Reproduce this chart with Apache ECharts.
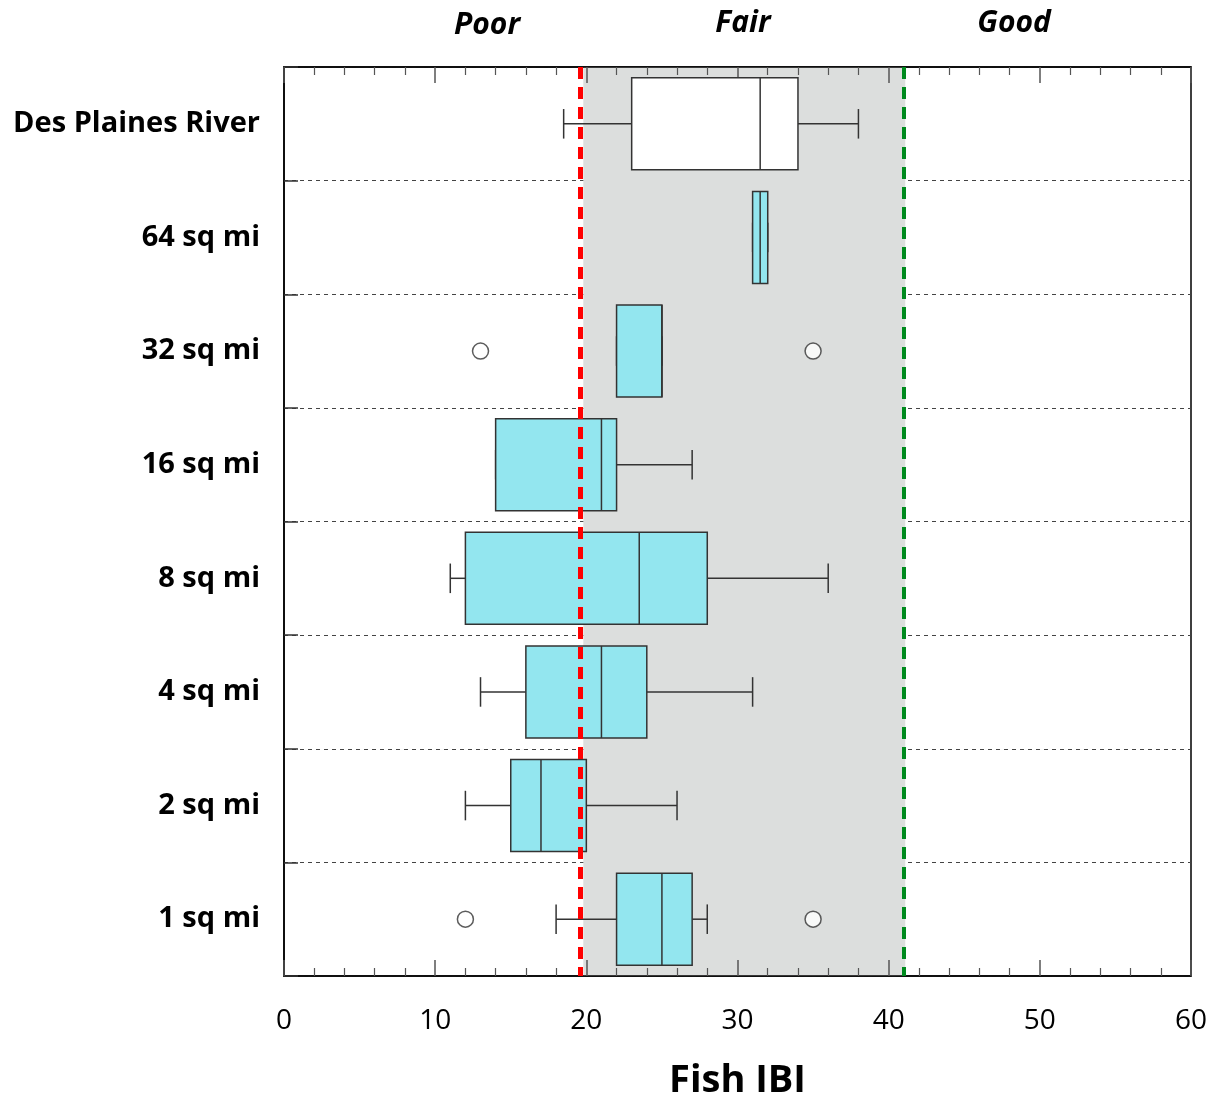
<!DOCTYPE html>
<html>
<head>
<meta charset="utf-8">
<script src="https://cdn.jsdelivr.net/npm/echarts@6/dist/echarts.min.js"></script>
<style>html,body{margin:0;padding:0;background:#fff;overflow:hidden}#c{width:1219px;height:1103px}</style>
</head>
<body>
<div id="c"></div>
<script>
// ---- data ----
var categories = ['Des Plaines River','64 sq mi','32 sq mi','16 sq mi','8 sq mi','4 sq mi','2 sq mi','1 sq mi'];
// [min, q1, median, q3, max]
var boxMin    = [18.5, 31,   22, 14, 11,   13, 12, 18];
var boxQ1     = [23,   31,   22, 14, 12,   16, 15, 22];
var boxMedian = [31.5, 31.5, 25, 21, 23.5, 21, 17, 25];
var boxQ3     = [34,   32,   25, 22, 28,   24, 20, 27];
var boxMax    = [38,   32,   25, 27, 36,   31, 26, 28];
var outlierCats   = ['32 sq mi','32 sq mi','1 sq mi','1 sq mi'];
var outlierValues = [13, 35, 12, 35];
var xTicks = [0,10,20,30,40,50,60];
var poorFairLimit = 19.6;
var fairGoodLimit = 41;
var fairBand = [19.8, 41.1];
var zoneLabels = ['Poor','Fair','Good'];
var axisTitle = 'Fish IBI';

var FONT = '"Open Sans", Lato, sans-serif';
var chart = echarts.init(document.getElementById('c'), null, {renderer:'canvas', width:1219, height:1103});

var boxData = categories.map(function(c,i){
  return [i, boxMin[i], boxQ1[i], boxMedian[i], boxQ3[i], boxMax[i]];
});
var outData = outlierCats.map(function(c,i){ return [outlierValues[i], c]; });

function renderBox(params, api){
  var ci = api.value(0);
  var mn = api.coord([api.value(1), ci]);
  var q1 = api.coord([api.value(2), ci]);
  var md = api.coord([api.value(3), ci]);
  var q3 = api.coord([api.value(4), ci]);
  var mx = api.coord([api.value(5), ci]);
  var band = api.size([0,1])[1];
  var h = band*0.81;
  var cap = band*0.26;
  var y = q1[1];
  var fill = ci === 0 ? '#ffffff' : '#93e6ef';
  var stroke = '#333';
  var ls = {stroke:stroke, lineWidth:1.5};
  var ch = [];
  ch.push({type:'line', shape:{x1:mn[0],y1:y,x2:q1[0],y2:y}, style:ls});
  ch.push({type:'line', shape:{x1:q3[0],y1:y,x2:mx[0],y2:y}, style:ls});
  ch.push({type:'line', shape:{x1:mn[0],y1:y-cap/2,x2:mn[0],y2:y+cap/2}, style:ls});
  ch.push({type:'line', shape:{x1:mx[0],y1:y-cap/2,x2:mx[0],y2:y+cap/2}, style:ls});
  ch.push({type:'rect', shape:{x:q1[0],y:y-h/2,width:q3[0]-q1[0],height:h}, style:{fill:fill, stroke:stroke, lineWidth:1.5}});
  ch.push({type:'line', shape:{x1:md[0],y1:y-h/2,x2:md[0],y2:y+h/2}, style:ls});
  return {type:'group', children:ch};
}

var option = {
  animation:false,
  backgroundColor:'#fff',
  grid:{left:284, right:28, top:67, bottom:127, outerBoundsMode:'none', containLabel:false, show:true, borderColor:'#000', borderWidth:1.5},
  xAxis:[{
    type:'value', min:0, max:60, interval:10, position:'bottom',
    axisLine:{show:true, onZero:false, lineStyle:{color:'#000', width:1.5}},
    axisTick:{show:true, inside:true, length:16, lineStyle:{color:'#555', width:1.5}},
    minorTick:{show:true, splitNumber:5, length:8, lineStyle:{color:'#555', width:1.2}},
    splitLine:{show:false},
    axisLabel:{fontSize:28, color:'#000', fontFamily:FONT, margin:31,
      formatter:function(v){ return xTicks.indexOf(v)>=0 ? String(v) : ''; }},
    name:axisTitle, nameLocation:'middle', nameGap:86,
    nameTextStyle:{fontSize:38, fontWeight:'bold', color:'#000', fontFamily:FONT}
  },{
    type:'value', min:0, max:60, interval:10, position:'top',
    axisLine:{show:true, onZero:false, lineStyle:{color:'#000', width:1.5}},
    axisTick:{show:true, inside:true, length:16, lineStyle:{color:'#555', width:1.5}},
    minorTick:{show:true, splitNumber:5, length:8, lineStyle:{color:'#555', width:1.2}},
    splitLine:{show:false}, axisLabel:{show:false}
  }],
  yAxis:[{
    type:'category', data:categories, inverse:true, position:'left',
    axisLine:{show:true, lineStyle:{color:'#000', width:1.5}},
    axisTick:{show:true, inside:true, length:14, lineStyle:{color:'#333', width:1.5}},
    splitLine:{show:true, lineStyle:{color:'#444', type:[4,4], width:1}},
    axisLabel:{show:true, inside:false, fontSize:29, fontWeight:'bold', color:'#000', fontFamily:FONT, margin:24}
  }],
  series:[{
    type:'custom', name:'box', xAxisIndex:0, yAxisIndex:0,
    renderItem:renderBox,
    encode:{x:[1,2,3,4,5], y:0},
    data:boxData,
    z:3,
    markArea:{silent:true, itemStyle:{color:'#dcdedd'}, data:[[{xAxis:fairBand[0]},{xAxis:fairBand[1]}]], z:0},
    markLine:{silent:true, symbol:'none', label:{show:false},
      data:[
        {xAxis:poorFairLimit, lineStyle:{color:'#ff0000', width:5, type:[12,8]}},
        {xAxis:fairGoodLimit, lineStyle:{color:'#008a1e', width:4, type:[12,8]}}
      ]}
  },{
    type:'scatter', name:'outliers', xAxisIndex:0, yAxisIndex:0,
    data:outData, symbol:'circle', symbolSize:16,
    itemStyle:{color:'#fff', borderColor:'#333', borderWidth:1.5}, z:4
  }],
  graphic:[
    {type:'text', x:487, y:25, style:{text:zoneLabels[0], font:'italic bold 30px '+FONT, fill:'#000', textAlign:'center', textVerticalAlign:'middle'}},
    {type:'text', x:743, y:23, style:{text:zoneLabels[1], font:'italic bold 30px '+FONT, fill:'#000', textAlign:'center', textVerticalAlign:'middle'}},
    {type:'text', x:1014, y:23, style:{text:zoneLabels[2], font:'italic bold 30px '+FONT, fill:'#000', textAlign:'center', textVerticalAlign:'middle'}}
  ]
};
chart.setOption(option);
</script>
</body>
</html>
